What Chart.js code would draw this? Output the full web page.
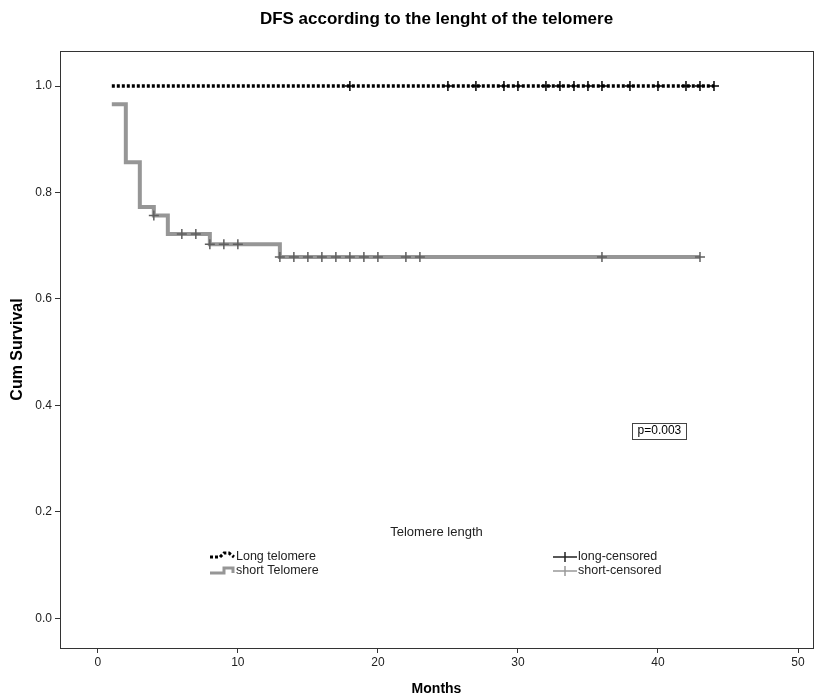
<!DOCTYPE html>
<html>
<head>
<meta charset="utf-8">
<script src="https://cdn.jsdelivr.net/npm/chart.js@4.4.0/dist/chart.umd.min.js"></script>
<style>
body { margin:0; background:#fff; }
</style>
</head>
<body>
<canvas id="km-chart" width="825" height="700"></canvas>
<script>
// values (months / cum survival)
var longTimes = [1, 44];
var longSurv = [1, 1];
var longCensorTimes = [18, 25, 27, 29, 30, 32, 33, 34, 35, 36, 38, 40, 42, 43, 44];
var longCensorSurv = [1, 1, 1, 1, 1, 1, 1, 1, 1, 1, 1, 1, 1, 1, 1];

var shortTimes = [1, 2, 3, 4, 5, 8, 13, 43];
var shortSurv = [0.966, 0.857, 0.773, 0.757, 0.722, 0.703, 0.679, 0.679];
var shortCensorTimes = [4, 6, 7, 8, 9, 10, 13, 14, 15, 16, 17, 18, 19, 20, 22, 23, 36, 43];
var shortCensorSurv = [0.757, 0.722, 0.722, 0.703, 0.703, 0.703, 0.679, 0.679, 0.679,
                       0.679, 0.679, 0.679, 0.679, 0.679, 0.679, 0.679, 0.679, 0.679];

var xTicks = [0, 10, 20, 30, 40, 50];
var yTicks = [0, 0.2, 0.4, 0.6, 0.8, 1.0];

var FONT = "'Liberation Sans', Arial, sans-serif";
var black = '#000000';
var grey = 'rgba(150,150,150,1)';
var greyMark = 'rgba(95,95,95,1)';

function toPoints(xs, ys) {
	var pts = [];
	for (var i = 0; i < xs.length; i++) pts.push({x: xs[i], y: ys[i]});
	return pts;
}

// frame, title, legend, p value - drawn by hand like the SPSS output
var spssExtras = {
	id: 'spssExtras',
	afterDraw: function(chart) {
		var ctx = chart.ctx, a = chart.chartArea;
		var xs = chart.scales.x, ys = chart.scales.y;
		ctx.save();

		ctx.strokeStyle = '#333';
		ctx.lineWidth = 1;
		ctx.strokeRect(a.left + 0.5, a.top + 0.5, a.right - a.left, a.bottom - a.top);

		ctx.fillStyle = '#000';
		ctx.textAlign = 'center';
		ctx.textBaseline = 'middle';
		ctx.font = 'bold 17px ' + FONT;
		ctx.fillText('DFS according to the lenght of the telomere', (a.left + a.right) / 2, 19);

		// legend
		ctx.font = '13px ' + FONT;
		ctx.fillStyle = '#222';
		ctx.fillText('Telomere length', (a.left + a.right) / 2, 532);

		ctx.font = '12.5px ' + FONT;
		ctx.textAlign = 'left';
		ctx.fillText('Long telomere', 236, 557);
		ctx.fillText('short Telomere', 236, 571);
		ctx.fillText('long-censored', 578, 557);
		ctx.fillText('short-censored', 578, 571);

		ctx.strokeStyle = black;
		ctx.lineWidth = 3;
		ctx.setLineDash([3, 2]);
		ctx.beginPath();
		ctx.moveTo(210, 557); ctx.lineTo(220, 557); ctx.lineTo(224, 553);
		ctx.lineTo(229, 553); ctx.lineTo(234, 557);
		ctx.stroke();
		ctx.setLineDash([]);

		ctx.strokeStyle = grey;
		ctx.beginPath();
		ctx.moveTo(210, 573); ctx.lineTo(224, 573); ctx.lineTo(224, 568);
		ctx.lineTo(233, 568); ctx.lineTo(233, 573);
		ctx.stroke();

		ctx.lineWidth = 1.5;
		ctx.strokeStyle = '#222';
		ctx.beginPath();
		ctx.moveTo(553, 557); ctx.lineTo(577, 557);
		ctx.moveTo(565, 552); ctx.lineTo(565, 562);
		ctx.stroke();
		ctx.strokeStyle = '#999';
		ctx.beginPath();
		ctx.moveTo(553, 571); ctx.lineTo(577, 571);
		ctx.moveTo(565, 566); ctx.lineTo(565, 576);
		ctx.stroke();

		// p value box
		var px = xs.getPixelForValue(40.1), py = ys.getPixelForValue(0.352);
		ctx.font = '12px ' + FONT;
		ctx.textAlign = 'center';
		ctx.fillStyle = '#000';
		ctx.fillText('p=0.003', px, py);
		ctx.strokeStyle = '#444';
		ctx.lineWidth = 1;
		ctx.strokeRect(Math.round(px - 27) + 0.5, Math.round(py - 8) + 0.5, 54, 16);

		ctx.restore();
	}
};

new Chart(document.getElementById('km-chart'), {
	type: 'line',
	data: {
		datasets: [{
			label: 'long-censored',
			data: toPoints(longCensorTimes, longCensorSurv),
			showLine: false,
			pointStyle: 'cross',
			pointRadius: 5,
			pointBorderWidth: 1.5,
			borderColor: black,
			order: 1
		}, {
			label: 'short-censored',
			data: toPoints(shortCensorTimes, shortCensorSurv),
			showLine: false,
			pointStyle: 'cross',
			pointRadius: 5,
			pointBorderWidth: 1.5,
			borderColor: greyMark,
			order: 1
		}, {
			label: 'Long telomere',
			data: toPoints(longTimes, longSurv),
			stepped: 'before',
			borderColor: black,
			borderWidth: 3.5,
			borderDash: [3, 2],
			borderCapStyle: 'butt',
			pointRadius: 0,
			fill: false,
			order: 2
		}, {
			label: 'short Telomere',
			data: toPoints(shortTimes, shortSurv),
			stepped: 'before',
			borderColor: grey,
			borderWidth: 4,
			pointRadius: 0,
			fill: false,
			order: 3
		}]
	},
	options: {
		responsive: false,
		animation: false,
		devicePixelRatio: 1,
		layout: { padding: { top: 51, right: 12, left: 0, bottom: 0 } },
		plugins: {
			legend: { display: false },
			tooltip: { enabled: false },
			title: { display: false }
		},
		scales: {
			x: {
				type: 'linear',
				min: -2.7,
				max: 51.07,
				afterBuildTicks: function(s) { s.ticks = xTicks.map(function(v) { return {value: v}; }); },
				afterFit: function(s) { s.height = 52; },
				grid: { drawOnChartArea: false, drawTicks: true, tickLength: 5, color: '#333', tickWidth: 1 },
				border: { display: true, color: '#333' },
				ticks: { color: '#222', font: { family: FONT, size: 12 }, padding: 2, maxRotation: 0 },
				title: { display: true, text: 'Months', color: '#000',
					font: { family: FONT, size: 14, weight: 'bold' }, padding: { top: 4, bottom: 2 } }
			},
			y: {
				min: -0.056,
				max: 1.066,
				afterBuildTicks: function(s) { s.ticks = yTicks.map(function(v) { return {value: v}; }); },
				afterFit: function(s) { s.width = 60; },
				grid: { drawOnChartArea: false, drawTicks: true, tickLength: 5, color: '#333', tickWidth: 1 },
				border: { display: true, color: '#333' },
				ticks: { color: '#222', font: { family: FONT, size: 12 }, padding: 3,
					callback: function(v) { return v.toFixed(1); } },
				title: { display: true, text: 'Cum Survival', color: '#000',
					font: { family: FONT, size: 16, weight: 'bold' }, padding: { top: 8, bottom: 4 } }
			}
		}
	},
	plugins: [spssExtras]
});
</script>
</body>
</html>
